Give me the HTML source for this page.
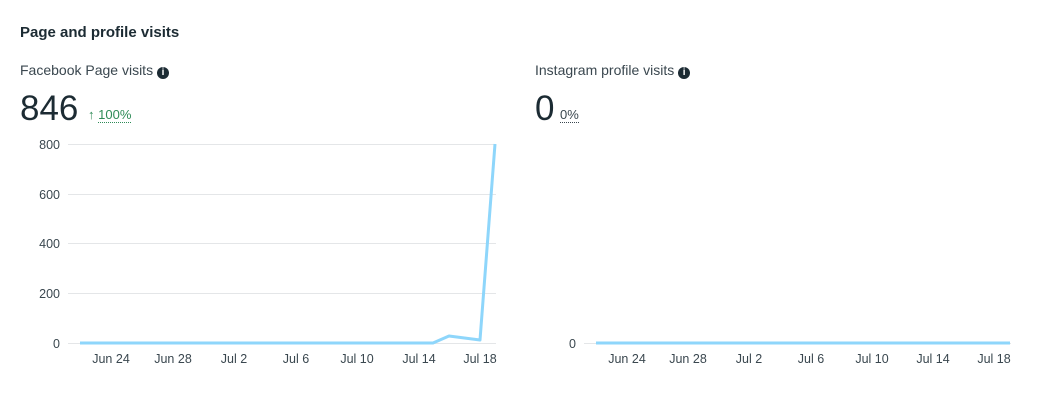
<!DOCTYPE html>
<html><head><style>
body{margin:0;width:1053px;height:412px;background:#fff;font-family:"Liberation Sans",sans-serif;color:#1c2b33;position:relative;overflow:hidden}
.a{position:absolute;white-space:nowrap}
.i{display:inline-block;width:12px;height:12px;border-radius:50%;background:#1c2b33;color:#fff;font-size:10px;text-align:center;line-height:12px;font-weight:bold;vertical-align:0px}
</style></head><body>
<div class="a" style="left:20px;top:24px;font-size:15px;font-weight:bold">Page and profile visits</div>
<div class="a" style="left:20px;top:62px;font-size:14px;color:#3a474f">Facebook Page visits <span class="i">i</span></div>
<div class="a" style="left:20px;top:89px;font-size:35px;color:#1c2b33">846</div>
<div class="a" style="left:88px;top:107px;font-size:13px;color:#2e8b57">↑ <span style="border-bottom:1px dotted #2e8b57">100%</span></div>
<div class="a" style="left:535px;top:62px;font-size:14px;color:#3a474f">Instagram profile visits <span class="i">i</span></div>
<div class="a" style="left:535px;top:89px;font-size:35px;color:#1c2b33">0</div>
<div class="a" style="left:560px;top:107px;font-size:13px;color:#3a474f"><span style="border-bottom:1px dotted #3a474f">0%</span></div>
<svg width="1053" height="412" style="position:absolute;left:0;top:0" font-family="Liberation Sans" font-size="12.5" fill="#3a474f">
<g stroke="#e4e6e8" stroke-width="1">
<line x1="68" x2="496" y1="144.5" y2="144.5"/><line x1="68" x2="496" y1="194.5" y2="194.5"/><line x1="68" x2="496" y1="243.5" y2="243.5"/><line x1="68" x2="496" y1="293.5" y2="293.5"/><line x1="68" x2="496" y1="343.5" y2="343.5"/>
<line x1="584" x2="1011" y1="343.5" y2="343.5"/>
</g>
<g text-anchor="end"><text x="60" y="149">800</text><text x="60" y="199">600</text><text x="60" y="248">400</text><text x="60" y="298">200</text><text x="60" y="348">0</text><text x="576" y="348">0</text></g>
<g text-anchor="middle">
<text x="111" y="363">Jun 24</text><text x="173" y="363">Jun 28</text><text x="234" y="363">Jul 2</text><text x="296" y="363">Jul 6</text><text x="357" y="363">Jul 10</text><text x="419" y="363">Jul 14</text><text x="480" y="363">Jul 18</text>
<text x="627" y="363">Jun 24</text><text x="688" y="363">Jun 28</text><text x="749" y="363">Jul 2</text><text x="811" y="363">Jul 6</text><text x="872" y="363">Jul 10</text><text x="933" y="363">Jul 14</text><text x="994" y="363">Jul 18</text>
</g>
<polyline fill="none" stroke="#8ed6fb" stroke-width="3" stroke-linejoin="round" points="80,343 433,343 449,336 480,340 495,144"/>
<polyline fill="none" stroke="#8ed6fb" stroke-width="3" points="596,343 1010,343"/>
</svg>
</body></html>
